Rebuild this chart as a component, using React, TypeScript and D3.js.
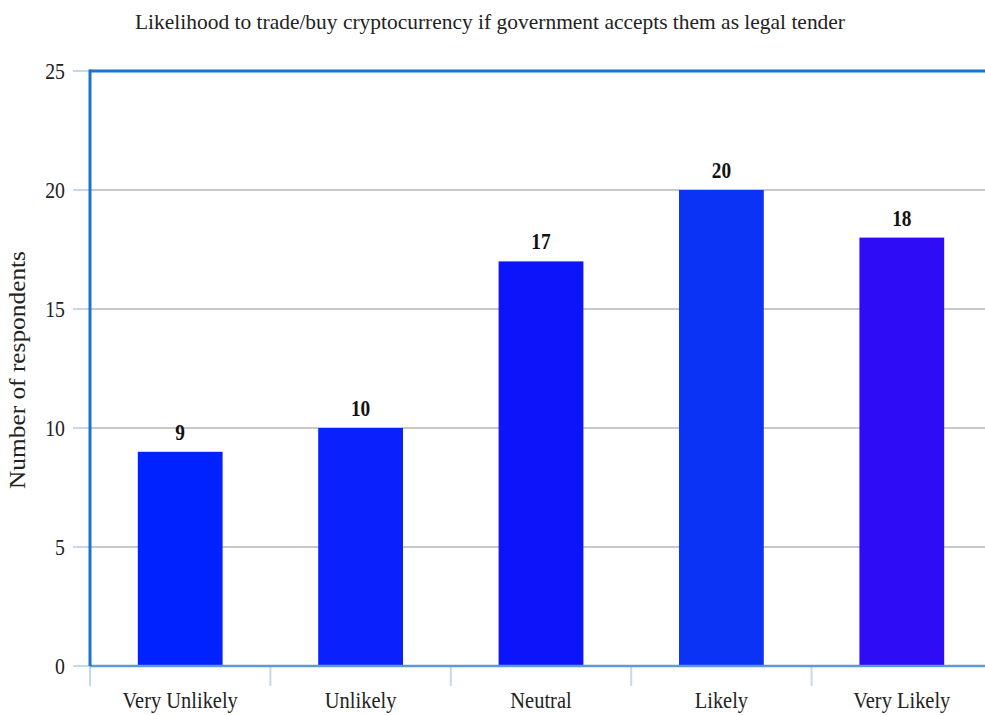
import React from "react";
import * as d3 from "d3";

const categories = ["Very Unlikely", "Unlikely", "Neutral", "Likely", "Very Likely"];
const values = [9, 10, 17, 20, 18];
const barColors = ["#0022ff", "#0a20fd", "#0c14fa", "#0a33f5", "#2e0cf5"];
const yTicks = [0, 5, 10, 15, 20, 25];
const title = "Likelihood to trade/buy cryptocurrency if government accepts them as legal tender";
const yTitle = "Number of respondents";

const W = 985, H = 715;
const left = 90, right = 992, top = 71, bottom = 666;
const FONT = "'Liberation Serif', 'Times New Roman', serif";

export default function App() {
  const x = d3.scaleBand<string>().domain(categories).range([left, right]).paddingInner(0.53).paddingOuter(0.265);
  const xb = d3.scaleBand<string>().domain(categories).range([left, right]);
  const y = d3.scaleLinear().domain([0, 25]).range([bottom, top]);

  return (
    <svg width={W} height={H} style={{ position: "absolute", left: 0, top: 0, background: "#fff" }}>
      <text x={490} y={29} textAnchor="middle" fontFamily={FONT} fontSize={22} textLength={710} lengthAdjust="spacingAndGlyphs" fill="#222">{title}</text>
      {yTicks.map(t => (
        <g key={t}>
          {t > 0 && t < 25 && <line x1={left} x2={W} y1={y(t)} y2={y(t)} stroke="#c8c8c8" strokeWidth={2} />}
          <line x1={73} x2={left} y1={y(t)} y2={y(t)} stroke="#c5d8ee" strokeWidth={2} />
          <text transform={`translate(65, ${y(t) + 7.5}) scale(0.9,1.05)`} textAnchor="end" fontFamily={FONT} fontSize={22} fill="#222">{t}</text>
        </g>
      ))}
      {categories.map((c, i) => (
        <g key={c}>
          <rect x={x(c)} y={y(values[i])} width={x.bandwidth()} height={bottom - y(values[i])} fill={barColors[i]} />
          <text transform={`translate(${(x(c) as number) + x.bandwidth() / 2}, ${y(values[i]) - 12}) scale(0.92,1.08)`} textAnchor="middle" fontFamily={FONT} fontWeight="bold" fontSize={21} fill="#111">{values[i]}</text>
          <text transform={`translate(${(xb(c) as number) + xb.bandwidth() / 2}, 708) scale(0.93,1.08)`} textAnchor="middle" fontFamily={FONT} fontSize={22} fill="#222">{c}</text>
        </g>
      ))}
      {[...categories.map(c => xb(c) as number), right].map((v, i) => (
        <line key={i} x1={v} x2={v} y1={bottom} y2={bottom + 20} stroke="#c5d8ee" strokeWidth={2} />
      ))}
      <line x1={left} x2={W} y1={bottom} y2={bottom} stroke="#5b9bd5" strokeWidth={2.5} />
      <line x1={left} x2={W} y1={top} y2={top} stroke="#1a73cc" strokeWidth={3} />
      <line x1={left} x2={left} y1={top - 1.5} y2={bottom} stroke="#1a73cc" strokeWidth={3} />
      <text transform={`translate(25, 370) rotate(-90)`} textAnchor="middle" fontFamily={FONT} fontSize={23} textLength={238} lengthAdjust="spacingAndGlyphs" fill="#222">{yTitle}</text>
    </svg>
  );
}
